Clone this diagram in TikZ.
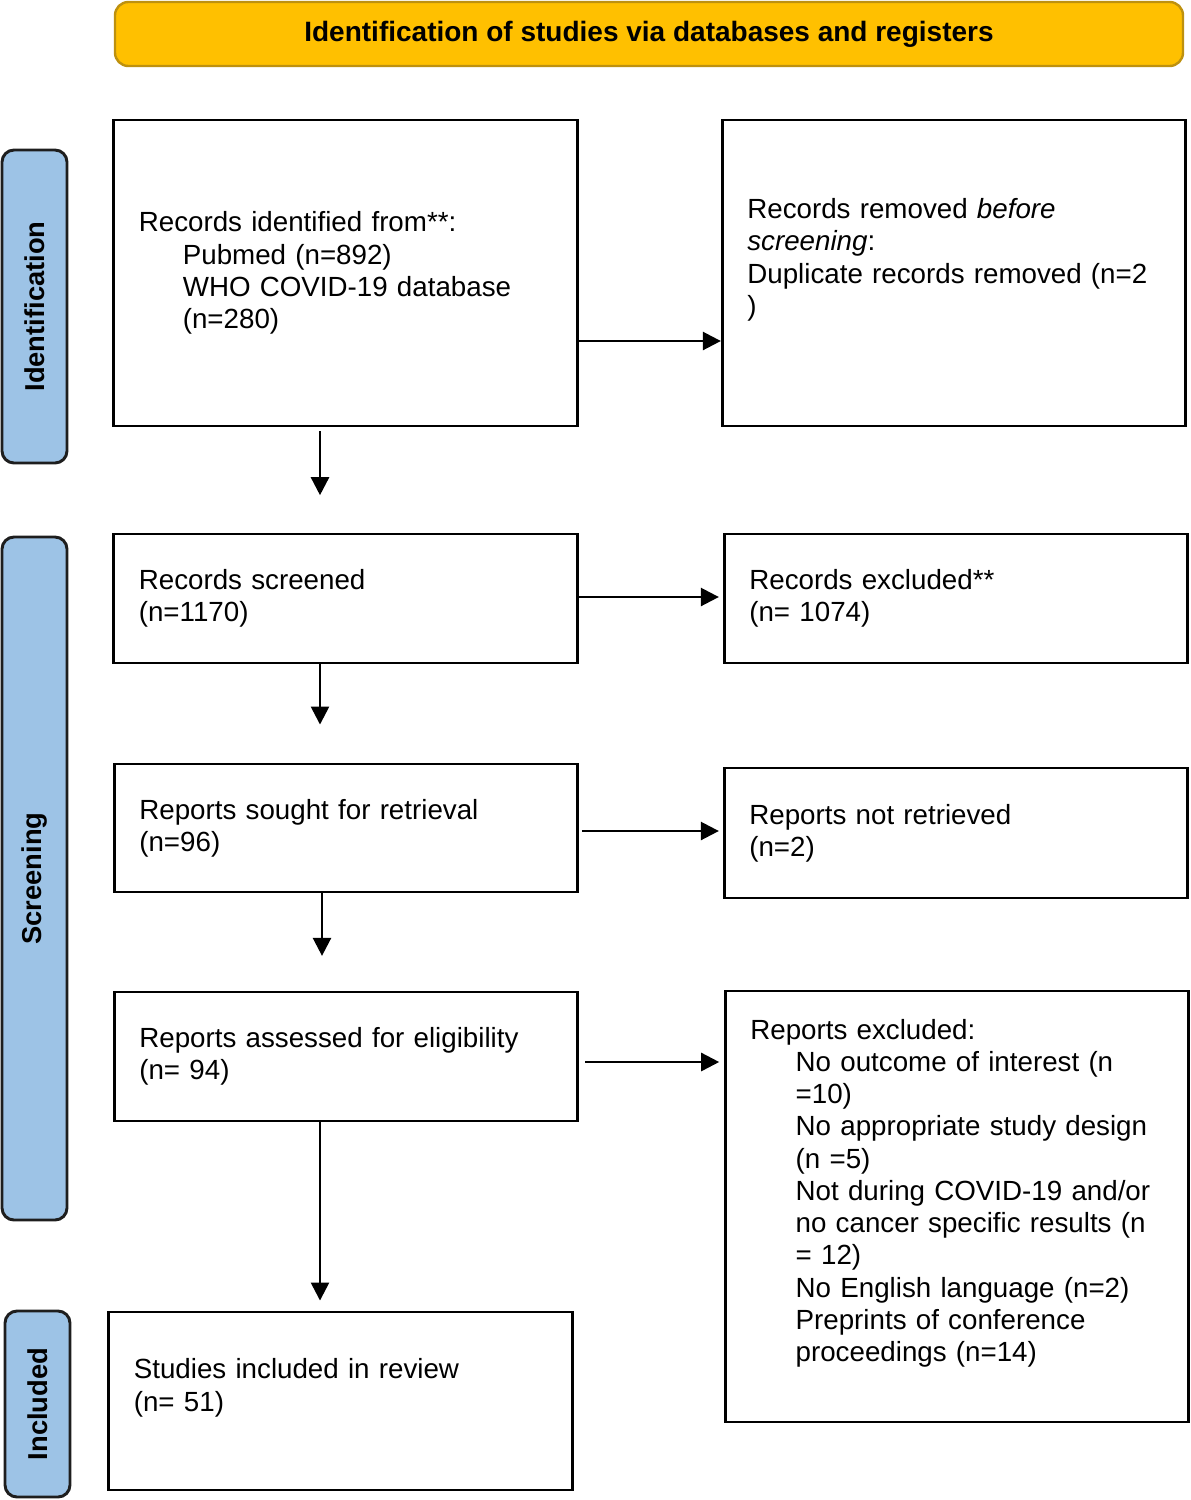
\documentclass[tikz,border=0pt]{standalone}
\usepackage{fontspec}
\setmainfont{Liberation Sans}
\usetikzlibrary{arrows.meta,positioning}

\definecolor{headgold}{RGB}{255,192,0}
\definecolor{headedge}{RGB}{190,145,15}
\definecolor{sideblue}{RGB}{157,195,230}
\definecolor{sideedge}{RGB}{30,30,30}

\tikzset{
  prbox/.style={draw, line width=2.2pt, align=left, inner xsep=18.75pt, inner ysep=0pt,
    text width=310pt, minimum height=#1*0.75pt, font=\fontsize{20.8}{24.2}\selectfont},
  sidebar/.style={draw=sideedge, fill=sideblue, line width=2.2pt, rounded corners=9pt,
    rotate=90, minimum height=48.75pt, minimum width=#1*0.75pt,
    font=\bfseries\fontsize{20.5}{24}\selectfont},
  headbox/.style={draw=headedge, fill=headgold, line width=1.8pt, rounded corners=10pt,
    minimum width=801pt, minimum height=48pt, font=\bfseries\fontsize{21}{24}\selectfont},
  arr/.style={-{Triangle[length=13.5pt,width=13.5pt]}, line width=1.9pt}
}

\begin{document}
\begin{tikzpicture}[x=0.75pt,y=-0.75pt]
    \useasboundingbox (0,0) rectangle (1190,1500);

    % Header
    \node[headbox] (head) at (649,34) {Identification of studies via databases and registers};

    % Side bars
    \node[sidebar=313] (sideid) at (34.5,306.5) {Identification};
    \node[sidebar=683] (sidescr) at (34.5,878.5) {Screening};
    \node[sidebar=186] (sideinc) at (37.5,1404) {Included};

    % Identification
    \node[prbox=306] (idrec) at (345.5,273) {Records identified from**:\\
      \hspace*{33pt}Pubmed (n=892)\\
      \hspace*{33pt}WHO COVID-19 database\\
      \hspace*{33pt}(n=280)};
    \node[prbox=306] (idrem) at (954,273) {Records removed \textit{before}\\
      \textit{screening}:\\
      Duplicate records removed (n=2\\
      )\\ ~};

    % Screening
    \node[prbox=129] (scrrec) at (345.5,598.5) {Records screened\\ (n=1170)};
    \node[prbox=129] (screxc) at (956,598.5) {Records excluded**\\ (n= 1074)};
    \node[prbox=128] (sought) at (346,828) {Reports sought for retrieval\\ (n=96)};
    \node[prbox=130] (notret) at (956,833) {Reports not retrieved\\ (n=2)};
    \node[prbox=129] (assess) at (346,1056.5) {Reports assessed for eligibility\\ (n= 94)};
    \node[prbox=431] (repexc) at (957,1206.5) {Reports excluded:\\
      \hspace*{34pt}No outcome of interest (n\\
      \hspace*{34pt}=10)\\
      \hspace*{34pt}No appropriate study design\\
      \hspace*{34pt}(n =5)\\
      \hspace*{34pt}Not during COVID-19 and/or\\
      \hspace*{34pt}no cancer specific results (n\\
      \hspace*{34pt}= 12)\\
      \hspace*{34pt}No English language (n=2)\\
      \hspace*{34pt}Preprints of conference\\
      \hspace*{34pt}proceedings (n=14)\\ ~};

    % Included
    \node[prbox=178] (incl) at (340.5,1401) {Studies included in review\\ (n= 51)\\ ~};

    % Arrows
    \draw[arr] (idrec.east |- 0,341) -- (idrem.west |- 0,341);
    \draw[arr, shorten <=3pt, shorten >=28pt] (idrec.south -| 320,0) -- (scrrec.north -| 320,0);
    \draw[arr, shorten >=3pt] (scrrec.east |- 0,597) -- (screxc.west |- 0,597);
    \draw[arr, shorten >=28.5pt] (scrrec.south -| 320,0) -- (sought.north -| 320,0);
    \draw[arr, shorten <=2pt, shorten >=3pt] (sought.east |- 0,831) -- (notret.west |- 0,831);
    \draw[arr, shorten >=26pt] (sought.south -| 322,0) -- (assess.north -| 322,0);
    \draw[arr, shorten <=4.5pt, shorten >=3.5pt] (assess.east |- 0,1062) -- (repexc.west |- 0,1062);
    \draw[arr, shorten >=7.5pt] (assess.south -| 320,0) -- (incl.north -| 320,0);
\end{tikzpicture}
\end{document}
